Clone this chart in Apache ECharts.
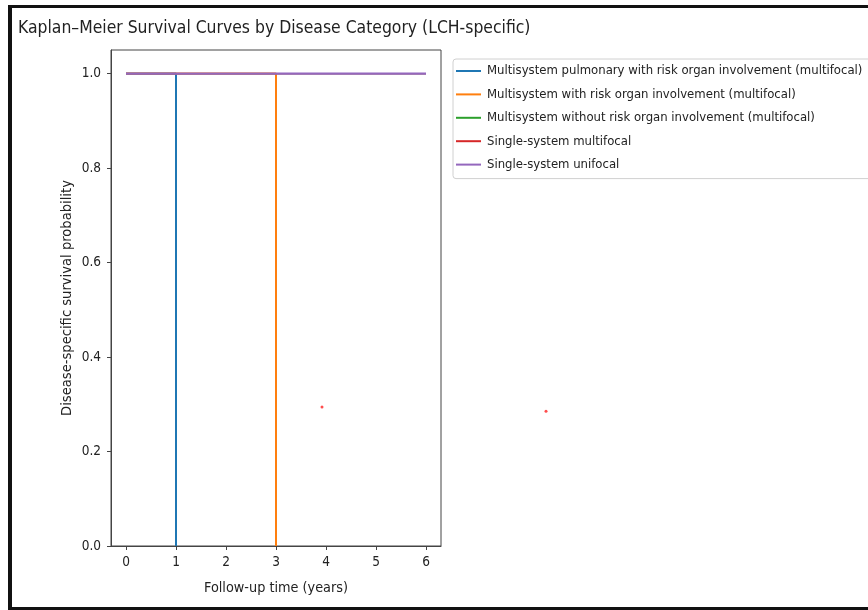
<!DOCTYPE html>
<html><head><meta charset="utf-8">
<script src="https://cdn.jsdelivr.net/npm/echarts@6/dist/echarts.min.js"></script>
<style>html,body{margin:0;padding:0;background:#fff}#c{width:868px;height:610px}</style>
</head><body><div id="c"></div>
<script>
const titleText = 'Kaplan–Meier Survival Curves by Disease Category (LCH-specific)';
const xName = 'Follow-up time (years)';
const yName = 'Disease-specific survival probability';
const xTicks = [0, 1, 2, 3, 4, 5, 6];
const yTicks = [0.0, 0.2, 0.4, 0.6, 0.8, 1.0];
const seriesNames = [
  'Multisystem pulmonary with risk organ involvement (multifocal)',
  'Multisystem with risk organ involvement (multifocal)',
  'Multisystem without risk organ involvement (multifocal)',
  'Single-system multifocal',
  'Single-system unifocal'
];
const colors = ['#1f77b4', '#ff7f0e', '#2ca02c', '#d62728', '#9467bd'];
// step curves as [time, survival]
const curvePulmonary = [[0, 1.0], [1, 1.0], [1, 0.0]];
const curveRiskOrgan = [[0, 1.0], [3, 1.0], [3, 0.0]];
const curveNoRisk = [[0, 1.0], [6, 1.0]];
const curveSingleMulti = [[0, 1.0], [6, 1.0]];
const curveSingleUni = [[0, 1.0], [6, 1.0]];
const strayPoints = [[3.92, 0.294], [8.4, 0.285]];

const FONT = "'DejaVu Sans Condensed', 'Liberation Sans Narrow', 'DejaVu Sans', sans-serif";
const curves = [curvePulmonary, curveRiskOrgan, curveNoRisk, curveSingleMulti, curveSingleUni];
const widths = [2, 2, 1.2, 1.2, 2.2];
const series = curves.map((d, i) => ({
  name: seriesNames[i], type: 'line', data: d, showSymbol: false, symbol: 'none',
  lineStyle: {width: widths[i], color: colors[i]}, itemStyle: {color: colors[i]}, z: 2 + i, animation: false
}));
series.push({name: 'stray', type: 'scatter', data: strayPoints, symbolSize: 3, clip: false,
  itemStyle: {color: '#ff2020'}, animation: false, z: 10});

const chart = echarts.init(document.getElementById('c'));
chart.setOption({
  animation: false,
  backgroundColor: '#fff',
  title: {text: titleText, left: 18, top: 20, padding: 0,
    textStyle: {fontFamily: FONT, fontSize: 17.4, fontWeight: 'normal', color: '#222'}},
  grid: {left: 111, top: 50, width: 330, height: 496, show: true, borderColor: '#444', borderWidth: 1, containLabel: false},
  legend: {
    data: seriesNames, orient: 'vertical', left: 453, top: 59,
    icon: 'rect', itemWidth: 25, itemHeight: 2, itemGap: 9.4,
    padding: [5, 10, 7, 3], borderColor: '#d0d0d0', borderWidth: 1, borderRadius: 3,
    textStyle: {fontFamily: FONT, fontSize: 13, color: '#222', lineHeight: 14, padding: [0, 0, 0, 1]},
    itemStyle: {borderWidth: 0}
  },
  xAxis: {
    type: 'value', min: -0.3, max: 6.3,
    name: xName, nameLocation: 'middle', nameGap: 35,
    nameTextStyle: {fontFamily: FONT, fontSize: 14.3, color: '#222'},
    axisLine: {show: true, onZero: false, lineStyle: {color: '#444'}},
    axisTick: {show: true, length: 4, customValues: xTicks, lineStyle: {color: '#444'}},
    axisLabel: {customValues: xTicks, margin: 9, fontFamily: FONT, fontSize: 13.5, color: '#222',
      formatter: v => String(Math.round(v))},
    splitLine: {show: false}
  },
  yAxis: {
    type: 'value', min: 0, max: 1.05,
    name: yName, nameLocation: 'middle', nameGap: 36,
    nameTextStyle: {fontFamily: FONT, fontSize: 14.6, color: '#222'},
    axisLine: {show: true, onZero: false, lineStyle: {color: '#444'}},
    axisTick: {show: true, length: 4, customValues: yTicks, lineStyle: {color: '#444'}},
    axisLabel: {customValues: yTicks, margin: 10, fontFamily: FONT, fontSize: 13.5, color: '#222',
      formatter: v => v.toFixed(1)},
    splitLine: {show: false}
  },
  graphic: [
    {type: 'rect', shape: {x: 8, y: 5, width: 870, height: 3}, style: {fill: '#111'}, z: 100},
    {type: 'rect', shape: {x: 8, y: 5, width: 4, height: 610}, style: {fill: '#111'}, z: 100},
    {type: 'rect', shape: {x: 8, y: 607, width: 870, height: 3}, style: {fill: '#111'}, z: 100}
  ],
  series: series
});
</script></body></html>
